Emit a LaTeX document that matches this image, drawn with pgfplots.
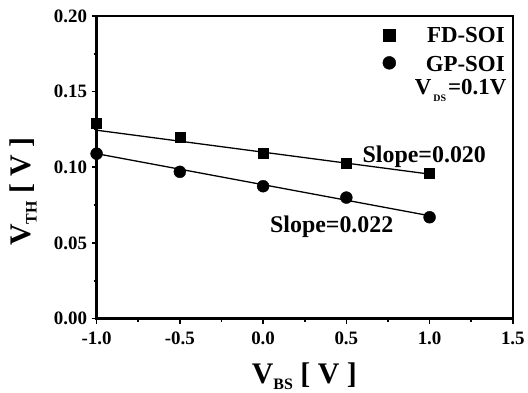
\documentclass[border=0pt]{standalone}
\usepackage{pgfplots}
\pgfplotsset{compat=1.18}
\usepackage{fontspec}
\setmainfont{Liberation Serif}
\begin{document}
\bfseries
\begin{tikzpicture}[x=1pt,y=1pt]
\begin{axis}[
  name=ax,
  scale only axis,
  width=418pt, height=304pt,
  xmin=-1.0, xmax=1.5, ymin=0, ymax=0.2,
  xtick={-1.0,-0.5,0.0,0.5,1.0,1.5},
  ytick={0,0.05,0.10,0.15,0.20},
  minor x tick num=1, minor y tick num=1,
  xticklabels={-1.0,-0.5,0.0,0.5,1.0,1.5},
  yticklabels={0.00,0.05,0.10,0.15,0.20},
  tick align=outside,
  tick pos=left,
  major tick length=5pt, minor tick length=3pt,
  every tick/.style={line width=1.6pt, black},
  axis line style={line width=2.4pt},
  tick label style={font=\fontsize{19}{21}\selectfont\bfseries},
  xticklabel style={yshift=-5pt},
  yticklabel style={xshift=-1pt},
  /pgf/number format/assume math mode=true,
  xlabel={V\raisebox{-6pt}{\fontsize{16}{16}\selectfont\bfseries BS} [ V ]},
  ylabel={V\raisebox{-6pt}{\fontsize{16}{16}\selectfont\bfseries TH} [ V ]},
  label style={font=\fontsize{30}{32}\selectfont\bfseries},
  xlabel style={at={(axis description cs:0.499,-0.19)}, anchor=center},
  ylabel style={at={(axis description cs:-0.176,0.42)}, anchor=center},
  clip=false,
]
% FD-SOI measurements and linear fit
\addplot[only marks, mark=square*, mark size=5pt, black] coordinates {
  (-1.0,0.129) (-0.5,0.120) (0.0,0.109) (0.5,0.103) (1.0,0.096)};
\addplot[black, line width=1.3pt] coordinates {(-1.0,0.1245) (1.0,0.0955)};
% GP-SOI measurements and linear fit
\addplot[only marks, mark=*, mark size=6pt, black] coordinates {
  (-1.0,0.109) (-0.5,0.097) (0.0,0.0875) (0.5,0.080) (1.0,0.067)};
\addplot[black, line width=1.3pt] coordinates {(-1.0,0.109) (1.0,0.068)};
% slope annotations
\node[anchor=base west, font=\fontsize{24}{26}\selectfont\bfseries, inner sep=0pt] at (axis cs:0.597,0.1033) {Slope=0.020};
\node[anchor=base west, font=\fontsize{24}{26}\selectfont\bfseries, inner sep=0pt] at (axis cs:0.041,0.0572) {Slope=0.022};
% key
\addplot[only marks, mark=square*, mark size=6pt, black] coordinates {(0.758,0.1875)};
\addplot[only marks, mark=*, mark size=6.5pt, black] coordinates {(0.758,0.169)};
\node[anchor=base east, font=\fontsize{23}{25}\selectfont\bfseries, inner sep=0pt] at (axis cs:1.452,0.1822) {FD-SOI};
\node[anchor=base east, font=\fontsize{23}{25}\selectfont\bfseries, inner sep=0pt] at (axis cs:1.452,0.1632) {GP-SOI};
\node[anchor=base east, font=\fontsize{23}{25}\selectfont\bfseries, inner sep=0pt] at (axis cs:1.462,0.148) {V\raisebox{-7pt}{\fontsize{10}{10}\selectfont\bfseries\kern2pt DS\kern2pt}=0.1V};
\end{axis}
\path[use as bounding box] ([shift={(-97pt,-74pt)}]ax.south west) rectangle ([shift={(13pt,16pt)}]ax.north east);
\end{tikzpicture}
\end{document}
